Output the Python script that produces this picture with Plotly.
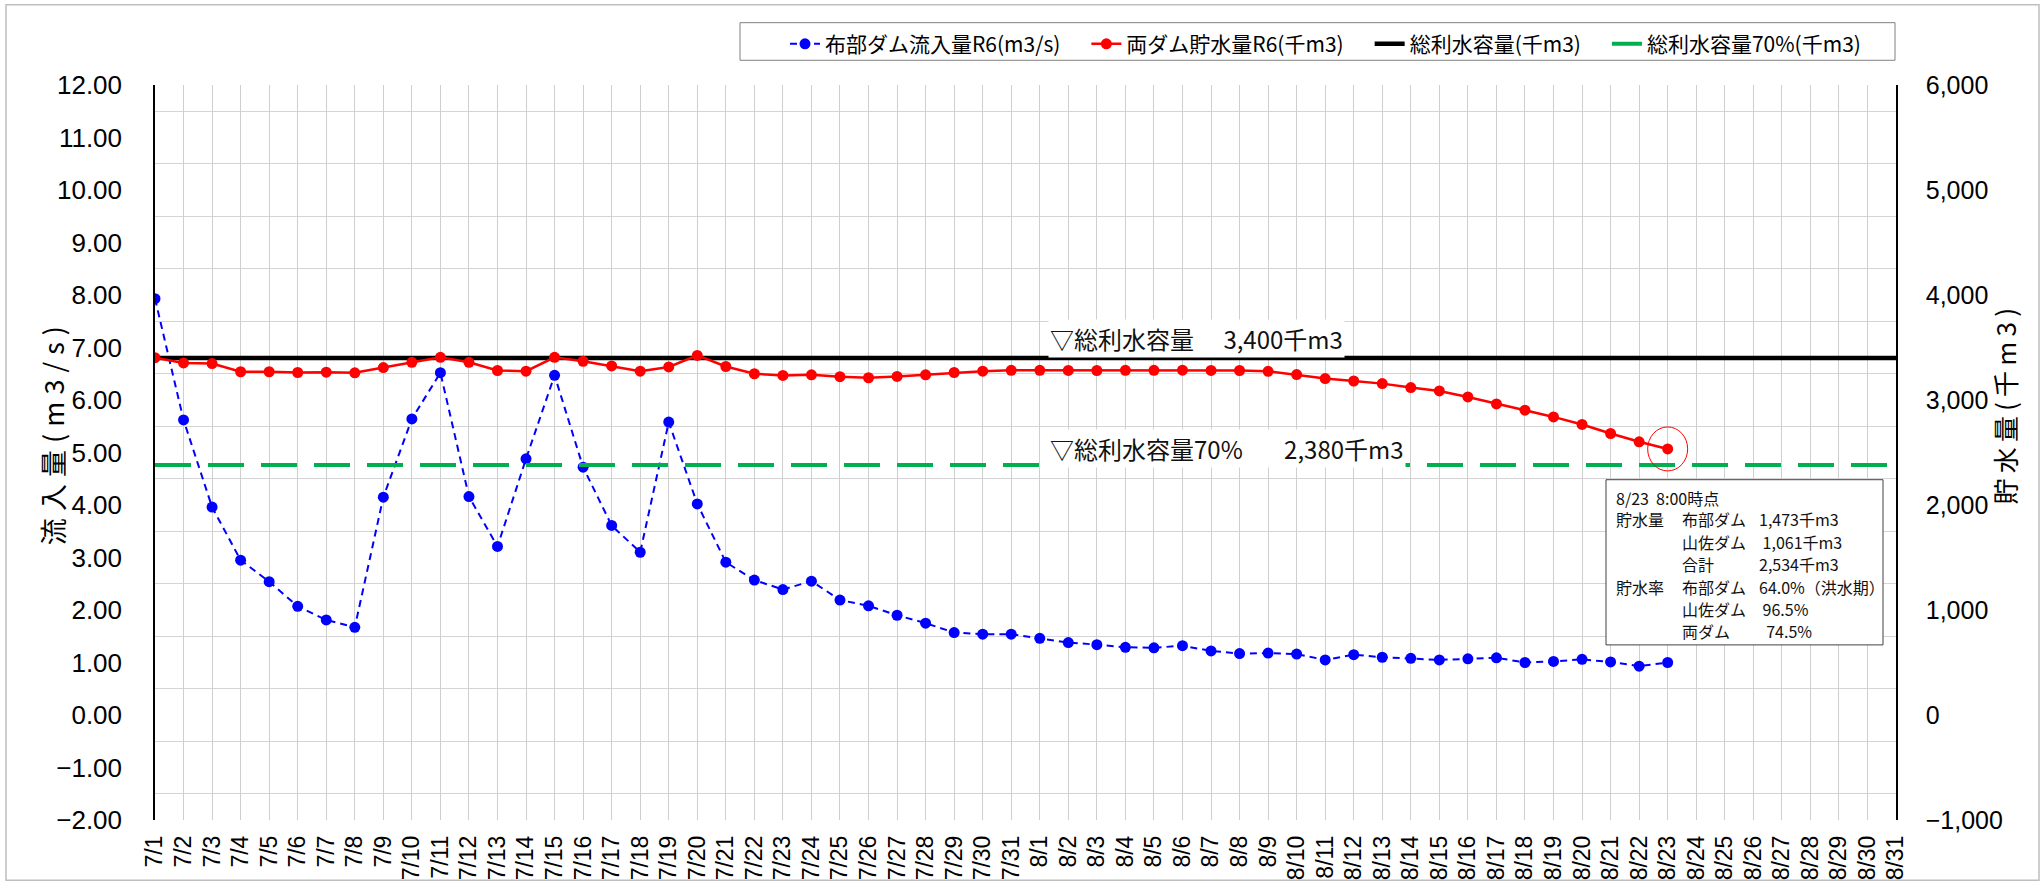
import plotly.graph_objects as go

# ---------------- data ----------------
dates = ["7/1", "7/2", "7/3", "7/4", "7/5", "7/6", "7/7", "7/8", "7/9", "7/10",
         "7/11", "7/12", "7/13", "7/14", "7/15", "7/16", "7/17", "7/18", "7/19", "7/20",
         "7/21", "7/22", "7/23", "7/24", "7/25", "7/26", "7/27", "7/28", "7/29", "7/30", "7/31",
         "8/1", "8/2", "8/3", "8/4", "8/5", "8/6", "8/7", "8/8", "8/9", "8/10",
         "8/11", "8/12", "8/13", "8/14", "8/15", "8/16", "8/17", "8/18", "8/19", "8/20",
         "8/21", "8/22", "8/23", "8/24", "8/25", "8/26", "8/27", "8/28", "8/29", "8/30", "8/31"]

# 布部ダム流入量R6 (m3/s), 7/1 .. 8/23
inflow = [7.93, 5.62, 3.96, 2.95, 2.54, 2.07, 1.81, 1.67, 4.15, 5.64,
          6.52, 4.16, 3.21, 4.88, 6.47, 4.72, 3.61, 3.10, 5.58, 4.02,
          2.91, 2.57, 2.39, 2.55, 2.19, 2.08, 1.90, 1.75, 1.57, 1.54, 1.54,
          1.46, 1.38, 1.34, 1.29, 1.28, 1.32, 1.22, 1.17, 1.18, 1.16,
          1.05, 1.15, 1.10, 1.08, 1.05, 1.07, 1.09, 1.00, 1.02, 1.06,
          1.01, 0.93, 1.00]

# 両ダム貯水量R6 (千m3), 7/1 .. 8/23
storage = [3403, 3353, 3347, 3269, 3269, 3262, 3265, 3259, 3309, 3359,
           3406, 3359, 3281, 3275, 3406, 3369, 3325, 3275, 3315, 3425,
           3319, 3250, 3234, 3240, 3222, 3212, 3225, 3240, 3262, 3275, 3283,
           3283, 3282, 3281, 3283, 3283, 3284, 3282, 3281, 3273, 3242,
           3204, 3181, 3156, 3118, 3086, 3029, 2963, 2903, 2839, 2767,
           2681, 2602, 2534]

capacity_total = 3400   # 総利水容量 (千m3)
capacity_70 = 2380      # 総利水容量70% (千m3)

left_ticks = [-2, -1, 0, 1, 2, 3, 4, 5, 6, 7, 8, 9, 10, 11, 12]
right_ticks = [-1000, 0, 1000, 2000, 3000, 4000, 5000, 6000]

info_lines = [
    ("8/23\u00a0\u00a08:00時点", None, None),
    ("貯水量", "布部ダム", "1,473千m3"),
    (None, "山佐ダム", "\u00a01,061千m3"),
    (None, "合計", "2,534千m3"),
    ("貯水率", "布部ダム", "64.0%（洪水期）"),
    (None, "山佐ダム", "\u00a096.5%"),
    (None, "両ダム", "\u00a0\u00a074.5%"),
]

# ---------------- layout geometry ----------------
W, H = 2042, 892
L, R, T, B = 155, 146, 85, 64
pw, ph = W - L - R, H - T - B


def px(x):
    return (x - L) / pw


def py(y):
    return (H - B - y) / ph


def spaced(s, sep):
    return sep.join(s)


JP = "Noto Sans CJK JP"
NUM = "Liberation Sans, Arial"
GAP = "\u3000"  # extra spacing after legend entries

fig = go.Figure()

fig.add_trace(go.Scatter(
    x=[dates[0], dates[-1]], y=[capacity_70, capacity_70], yaxis="y2",
    name="総利水容量70%(千m3)", mode="lines", legendrank=4,
    line=dict(color="#00B050", width=4, dash="36px,17px")))
fig.add_trace(go.Scatter(
    x=[dates[0], dates[-1]], y=[capacity_total, capacity_total], yaxis="y2",
    name="総利水容量(千m3)" + GAP, mode="lines", legendrank=3,
    line=dict(color="#000000", width=4.5)))
fig.add_trace(go.Scatter(
    x=dates[:len(inflow)], y=inflow, yaxis="y",
    name="布部ダム流入量R6(m3/s)" + GAP, mode="lines+markers", legendrank=1,
    line=dict(color="#0000FF", width=2, dash="7px,5px"),
    marker=dict(color="#0000FF", size=11)))
fig.add_trace(go.Scatter(
    x=dates[:len(storage)], y=storage, yaxis="y2",
    name="両ダム貯水量R6(千m3)" + GAP, mode="lines+markers", legendrank=2,
    line=dict(color="#FF0000", width=2.5),
    marker=dict(color="#FF0000", size=11)))

annotations = [
    dict(text=spaced("流入量(m3/s)", "\u2009\u200a"), x=px(52), y=py(440), xref="paper", yref="paper",
         xanchor="center", yanchor="middle",
         textangle=-90, showarrow=False, font=dict(family=JP, size=27, color="#000")),
    dict(text=spaced("貯水量(千m3)", "\u2009"), x=px(2005), y=py(410), xref="paper", yref="paper",
         xanchor="center", yanchor="middle",
         textangle=-90, showarrow=False, font=dict(family=JP, size=26, color="#000")),
    dict(text="▽総利水容量\u3000 3,400千m3", x=px(1048), y=py(341), xref="paper", yref="paper",
         xanchor="left", yanchor="middle", showarrow=False, bgcolor="white", borderpad=1,
         font=dict(family=JP, size=24, color="#111")),
    dict(text="▽総利水容量70%\u3000\u2002 2,380千m3", x=px(1048), y=py(452), xref="paper", yref="paper",
         xanchor="left", yanchor="middle", showarrow=False, bgcolor="white", borderpad=1,
         font=dict(family=JP, size=24, color="#111")),
]

row_y = [502, 524, 547, 569, 592, 615, 637]
col_x = [1614, 1680, 1757]
for yy, cols in zip(row_y, info_lines):
    for xx, txt in zip(col_x, cols):
        if txt is None:
            continue
        annotations.append(dict(text=txt, x=px(xx), y=py(yy), xref="paper", yref="paper",
                                xanchor="left", yanchor="middle", showarrow=False,
                                font=dict(family=JP, size=16, color="#111")))

shapes = [
    # chart-area border
    dict(type="rect", xref="paper", yref="paper", x0=px(6), x1=px(2039), y0=py(889), y1=py(4),
         line=dict(color="#BFBFBF", width=1.5), fillcolor="rgba(0,0,0,0)", layer="below"),
    # legend frame
    dict(type="rect", xref="paper", yref="paper", x0=px(740), x1=px(1895), y0=py(60), y1=py(22),
         line=dict(color="#808080", width=1), fillcolor="white", layer="below"),
    # info box
    dict(type="rect", xref="paper", yref="paper", x0=px(1606), x1=px(1883), y0=py(651), y1=py(484),
         line=dict(color="#404040", width=1), fillcolor="white", layer="above"),
    # circle around latest storage point
    dict(type="circle", xref="x", yref="y2", xsizemode="pixel", ysizemode="pixel",
         xanchor=dates.index("8/23"), yanchor=storage[-1],
         x0=-20, x1=20, y0=-22, y1=22, line=dict(color="#FF0000", width=1)),
]

fig.update_layout(
    width=W, height=H, autosize=False,
    margin=dict(l=L, r=R, t=T, b=B, pad=0),
    paper_bgcolor="white", plot_bgcolor="white",
    showlegend=True,
    legend=dict(orientation="h", x=px(1866), xanchor="right", y=py(23), yanchor="top",
                borderwidth=0, bgcolor="rgba(0,0,0,0)",
                font=dict(family=JP, size=21, color="#000"), traceorder="normal",
                itemwidth=30),
    xaxis=dict(type="category", categoryorder="array", categoryarray=dates,
               range=[0, len(dates) - 1], showgrid=True, gridcolor="#CFCFCF", gridwidth=1,
               tickangle=-90, tickfont=dict(family=NUM, size=23, color="#000"),
               ticks="", showline=False, zeroline=False, ticklabelstandoff=10),
    yaxis=dict(range=[-2, 12], tickvals=left_ticks, tickformat=".2f",
               showgrid=False, zeroline=False, showline=True, linecolor="#000", linewidth=1.5,
               minor=dict(tick0=0.5, dtick=1, showgrid=True, gridcolor="#D4D4D4", gridwidth=1),
               tickfont=dict(family=NUM, size=26, color="#000"), ticks="", ticklabelstandoff=26),
    yaxis2=dict(range=[-1000, 6000], tickvals=right_ticks, tickformat=",",
                overlaying="y", side="right", showgrid=False, zeroline=False,
                showline=True, linecolor="#000", linewidth=1.5,
                tickfont=dict(family=NUM, size=25, color="#000"), ticks="", ticklabelstandoff=23),
    annotations=annotations,
    shapes=shapes,
)

fig.write_html("out.html", config={"displayModeBar": False},
               post_script="document.body.style.margin='0';document.body.style.overflow='hidden';")
